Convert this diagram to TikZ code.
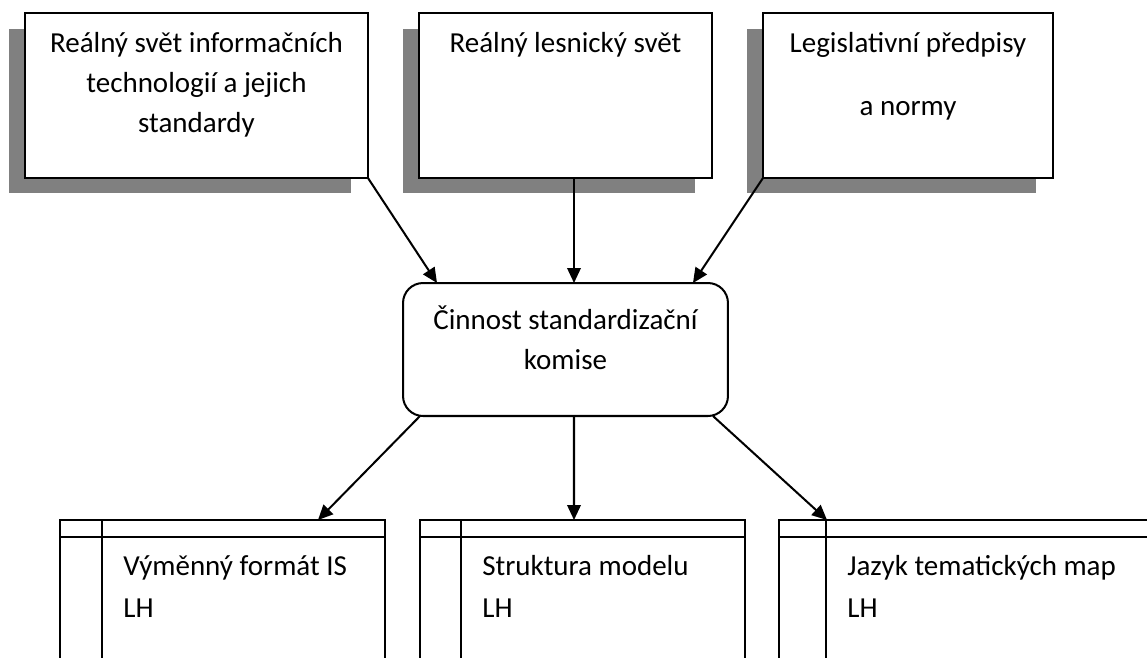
\documentclass[tikz,border=0pt]{standalone}
\usepackage{fontspec}
\setmainfont{Carlito}
\usetikzlibrary{arrows.meta,shadows}

\newcommand{\boxfont}{\fontsize{16.5pt}{22.8pt}\selectfont}
\newcommand{\midtext}[1]{\parbox[t]{8cm}{\centering #1}}
\newcommand{\lefttext}[1]{\parbox[t]{6cm}{\raggedright\fontsize{16.5pt}{23.9pt}\selectfont #1}}

\begin{document}
\begin{tikzpicture}[x=0.02cm,y=-0.02cm,
    srcbox/.style={draw,line width=1.15pt,fill=white,minimum height=3.3cm,inner sep=0pt,outer sep=0pt,
        drop shadow={shadow xshift=-0.33cm,shadow yshift=-0.31cm,fill=gray,opacity=1}},
    kombox/.style={draw,line width=1.15pt,rounded corners=0.4cm,minimum width=6.5cm,minimum height=2.66cm,inner sep=0pt,outer sep=0pt},
    tabbox/.style={draw,line width=1.15pt,minimum height=4cm,inner sep=0pt,outer sep=0pt},
    txt/.style={inner sep=0pt,font=\boxfont},
    flow/.style={line width=1.15pt,-{Triangle[length=0.3cm,width=0.27cm]}}]
    \useasboundingbox (0,0) rectangle (1147,657);
    \clip (0,0) rectangle (1147,657);

    % zdroje
    \node[srcbox,minimum width=6.86cm] (it) at (196.5,95.5) {};
    \node[srcbox,minimum width=5.86cm] (les) at (565.5,95.5) {};
    \node[srcbox,minimum width=5.8cm] (leg) at (908,95.5) {};
    \node[txt,anchor=base] (it-t) at (196.5,52) {\midtext{Reálný svět informačních\\technologií a jejich\\standardy}};
    \node[txt,anchor=base] (les-t) at (565.5,52) {\midtext{Reálný lesnický svět}};
    \node[txt,anchor=base] (leg-t) at (908,52) {\midtext{Legislativní předpisy\\[0.46cm]a normy}};

    % komise
    \node[kombox] (kom) at (565.5,349.5) {};
    \node[txt,anchor=base] (kom-t) at (565.5,329) {\midtext{Činnost standardizační\\komise}};

    % vystupy
    \node[tabbox,minimum width=6.5cm] (fmt) at (222.5,620) {};
    \node[tabbox,minimum width=6.5cm] (mod) at (582.5,620) {};
    \node[tabbox,minimum width=8.42cm] (map) at (989.5,620) {};
    \foreach \t/\d in {fmt/0.84cm,mod/0.82cm,map/0.94cm} {
        \draw[line width=1.15pt] ([yshift=-0.34cm]\t.north west) -- ([yshift=-0.34cm]\t.north east);
        \draw[line width=1pt] ([xshift=\d]\t.north west) -- ([xshift=\d]\t.south west);
    }
    \node[txt,anchor=base west] (fmt-t) at (123,575) {\lefttext{Výměnný formát IS\\LH}};
    \node[txt,anchor=base west] (mod-t) at (482,575) {\lefttext{Struktura modelu\\LH}};
    \node[txt,anchor=base west] (map-t) at (847,575) {\lefttext{Jazyk tematických map\\LH}};

    % sipky
    \draw[flow] (it.south east) -- ([xshift=-2.57cm]kom.north);
    \draw[flow] ([xshift=0.17cm]les.south) -- ([xshift=0.17cm]kom.north);
    \draw[flow] (leg.south west) -- ([xshift=2.55cm]kom.north);
    \draw[flow] ([xshift=-2.91cm]kom.south) -- ([xshift=5.16cm]fmt.north west);
    \draw[flow] ([xshift=0.17cm]kom.south) -- ([xshift=3.08cm]mod.north west);
    \draw[flow] ([xshift=2.95cm]kom.south) -- ([xshift=0.96cm]map.north west);
\end{tikzpicture}
\end{document}
